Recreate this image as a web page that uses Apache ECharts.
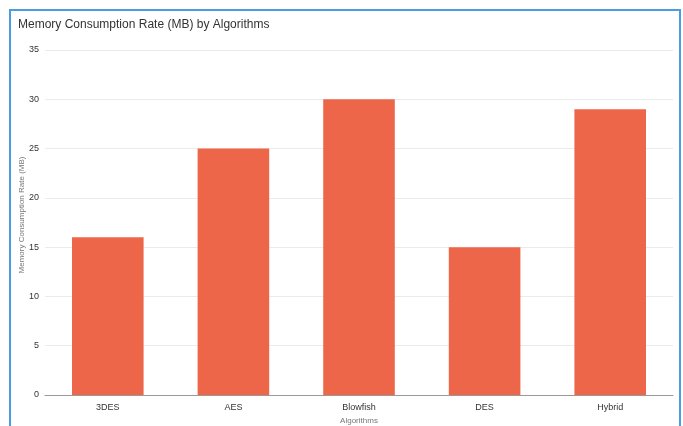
<!DOCTYPE html>
<html>
<head>
<meta charset="utf-8">
<script src="https://cdn.jsdelivr.net/npm/echarts@6/dist/echarts.min.js"></script>
<style>
  html, body { margin: 0; padding: 0; background: #fff; }
  #frame {
    position: absolute; left: 9px; top: 9px; width: 672px; height: 430px;
    border: 2px solid #4a9de2; box-sizing: border-box;
  }
  #chart { position: absolute; left: 0; top: 0; width: 683px; height: 426px; }
</style>
</head>
<body>
<div id="frame"></div>
<div id="chart"></div>
<script>
// Memory use per encryption algorithm
const categories = ['3DES', 'AES', 'Blowfish', 'DES', 'Hybrid'];
const memoryMB = [16, 25, 30, 15, 29];
const yTicks = { min: 0, max: 35, interval: 5 };

const chart = echarts.init(document.getElementById('chart'), null, { renderer: 'canvas' });
const font = 'Liberation Sans, Arial, sans-serif';

chart.setOption({
  animation: false,
  textStyle: { fontFamily: font },
  title: {
    text: 'Memory Consumption Rate (MB) by Algorithms',
    left: 13, top: 14,
    textStyle: { fontFamily: font, fontSize: 12, fontWeight: 'normal', color: '#333' }
  },
  grid: { left: 45, right: 10, top: 50, bottom: 31, containLabel: false, outerBoundsMode: 'none' },
  xAxis: {
    type: 'category',
    data: categories,
    name: 'Algorithms',
    nameLocation: 'middle',
    nameGap: 22,
    nameMoveOverlap: false,
    nameTextStyle: { fontFamily: font, fontSize: 8, color: '#777' },
    axisLine: { lineStyle: { color: '#999', width: 1 } },
    axisTick: { show: false },
    axisLabel: { fontFamily: font, fontSize: 9, color: '#333', margin: 8 }
  },
  yAxis: {
    type: 'value',
    min: yTicks.min, max: yTicks.max, interval: yTicks.interval,
    name: 'Memory Consumption Rate (MB)',
    nameLocation: 'middle',
    nameGap: 19,
    nameMoveOverlap: false,
    nameTextStyle: { fontFamily: font, fontSize: 8, color: '#777', padding: [0, 0, 0, 15] },
    axisLine: { show: false },
    axisTick: { show: false },
    axisLabel: { fontFamily: font, fontSize: 9, color: '#333', margin: 6 },
    splitLine: { lineStyle: { color: '#ebebeb', width: 1 } }
  },
  series: [{
    type: 'bar',
    data: memoryMB,
    barCategoryGap: '43%',
    itemStyle: { color: '#ee6649' }
  }]
});
</script>
</body>
</html>
